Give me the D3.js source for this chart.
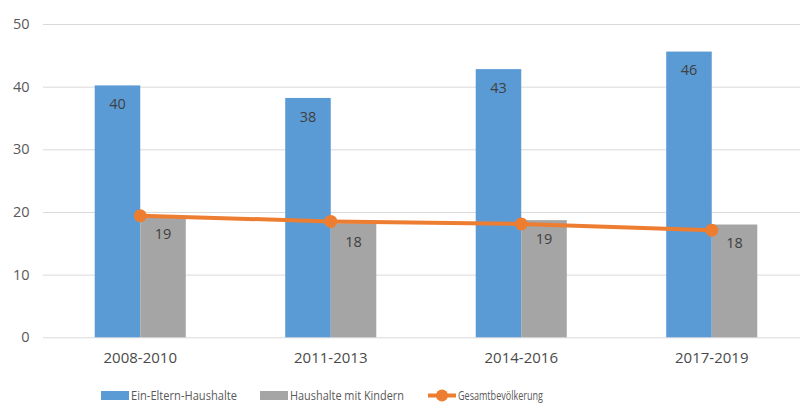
<!DOCTYPE html>
<html>
<head>
<meta charset="utf-8">
<script src="https://cdn.jsdelivr.net/npm/d3@7"></script>
<style>
  body { margin: 0; background: #fff; }
  svg { display: block; font-family: "Open Sans", "Segoe UI", sans-serif; }
</style>
</head>
<body>
<svg width="800" height="403"></svg>
<script>
const categories = ["2008-2010", "2011-2013", "2014-2016", "2017-2019"];
const einEltern = [40.2, 38.2, 42.8, 45.6];
const mitKindern = [19.4, 18.2, 18.7, 18.0];
const gesamt = [19.4, 18.5, 18.1, 17.1];
const yTicks = [0, 10, 20, 30, 40, 50];
const seriesNames = ["Ein-Eltern-Haushalte", "Haushalte mit Kindern", "Gesamtbevölkerung"];

const svg = d3.select("svg");
const blue = "#5B9BD5", grey = "#A5A5A5", orange = "#ED7D31";

const x = d3.scaleBand()
  .domain(categories)
  .range([45, 807])
  .paddingInner(0.522)
  .paddingOuter(0.261);

const y = d3.scaleLinear()
  .domain([0, 50])
  .range([337.3, 24]);

const fmt = d3.format(".0f");

// gridlines
svg.append("g")
  .selectAll("line")
  .data(yTicks)
  .enter().append("line")
  .attr("x1", 43)
  .attr("x2", 800)
  .attr("y1", d => y(d) + 0.5)
  .attr("y2", d => y(d) + 0.5)
  .attr("stroke", "#D9D9D9")
  .attr("stroke-width", 1);

// y-axis labels
svg.append("g")
  .selectAll("text")
  .data(yTicks)
  .enter().append("text")
  .attr("x", 29.5)
  .attr("y", d => y(d))
  .attr("dy", "0.35em")
  .attr("text-anchor", "end")
  .attr("fill", "#595959")
  .style("font-size", "14.5px")
  .text(d => d);

// x-axis labels
svg.append("g")
  .selectAll("text")
  .data(categories)
  .enter().append("text")
  .attr("x", d => x(d) + x.bandwidth() / 2)
  .attr("y", 358)
  .attr("dy", "0.35em")
  .attr("text-anchor", "middle")
  .attr("fill", "#4a4a4a")
  .style("font-size", "15px")
  .text(d => d);

const bw = x.bandwidth() / 2;

// bars
const bars = [
  { values: einEltern, color: blue, offset: 0 },
  { values: mitKindern, color: grey, offset: bw }
];

bars.forEach(s => {
  const g = svg.append("g");
  g.selectAll("rect")
    .data(s.values)
    .enter().append("rect")
    .attr("x", (d, i) => x(categories[i]) + s.offset)
    .attr("y", d => y(d))
    .attr("width", bw)
    .attr("height", d => y(0) - y(d))
    .attr("fill", s.color);
  g.selectAll("text")
    .data(s.values)
    .enter().append("text")
    .attr("x", (d, i) => x(categories[i]) + s.offset + bw / 2)
    .attr("y", d => y(d) + 18.5)
    .attr("dy", "0.35em")
    .attr("text-anchor", "middle")
    .attr("fill", "#404040")
    .style("font-size", "14.5px")
    .text(d => fmt(d));
});

// line
const line = d3.line()
  .x((d, i) => x(categories[i]) + bw)
  .y(d => y(d));

svg.append("path")
  .datum(gesamt)
  .attr("fill", "none")
  .attr("stroke", orange)
  .attr("stroke-width", 4)
  .attr("stroke-linecap", "round")
  .attr("d", line);

svg.append("g")
  .selectAll("circle")
  .data(gesamt)
  .enter().append("circle")
  .attr("cx", (d, i) => x(categories[i]) + bw)
  .attr("cy", d => y(d))
  .attr("r", 6.5)
  .attr("fill", orange);

// legend
const legendY = 395.5;
const legend = svg.append("g");
const legendItems = [
  { name: seriesNames[0], type: "rect", color: blue, x: 101, w: 106 },
  { name: seriesNames[1], type: "rect", color: grey, x: 260, w: 114 },
  { name: seriesNames[2], type: "line", color: orange, x: 428, w: 85 }
];

legendItems.forEach(it => {
  if (it.type === "rect") {
    legend.append("rect")
      .attr("x", it.x)
      .attr("y", legendY - 4.5)
      .attr("width", 28)
      .attr("height", 9)
      .attr("fill", it.color);
  } else {
    legend.append("line")
      .attr("x1", it.x)
      .attr("x2", it.x + 28)
      .attr("y1", legendY)
      .attr("y2", legendY)
      .attr("stroke", it.color)
      .attr("stroke-width", 4);
    legend.append("circle")
      .attr("cx", it.x + 14)
      .attr("cy", legendY)
      .attr("r", 6)
      .attr("fill", it.color);
  }
  legend.append("text")
    .attr("x", it.x + 30)
    .attr("y", legendY)
    .attr("dy", "0.35em")
    .attr("fill", "#595959")
    .attr("textLength", it.w)
    .attr("lengthAdjust", "spacingAndGlyphs")
    .style("font-size", "12.5px")
    .text(it.name);
});
</script>
</body>
</html>
